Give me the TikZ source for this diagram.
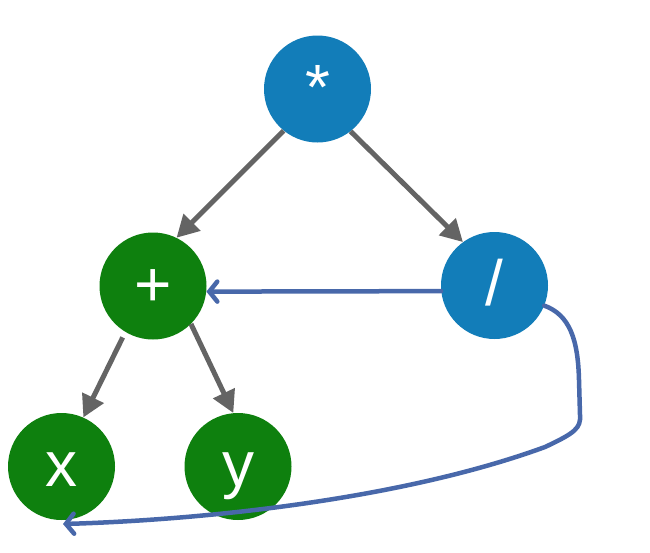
\documentclass[tikz,border=0pt]{standalone}
\usepackage{fontspec}
\setmainfont{Liberation Sans}
\usetikzlibrary{arrows.meta}
\definecolor{nodeblue}{RGB}{18,125,185}
\definecolor{nodegreen}{RGB}{14,128,14}
\definecolor{edgegray}{RGB}{100,100,100}
\definecolor{linkblue}{RGB}{72,104,170}
\tikzset{
  treenode/.style={circle, minimum size=107pt, inner sep=0pt, text=white,
    text height=40pt, text depth=0pt, font=\fontsize{64}{70}\selectfont},
  bluenode/.style={treenode, fill=nodeblue},
  greennode/.style={treenode, fill=nodegreen},
  treeedge/.style={draw=edgegray, line width=5pt,
    -{Triangle[length=22pt,width=23pt]}},
  linkedge/.style={draw=linkblue, line width=4.5pt, line cap=round,
    -{Straight Barb[length=8pt,width=20pt,line cap=round]}}
}
\begin{document}
\begin{tikzpicture}[x=1pt,y=-1pt]
\useasboundingbox[fill=white] (0,0) rectangle (650,552);
\node[bluenode] (star) at (317.5,89) {*};
\node[greennode] (plus) at (153,286) {+};
\node[bluenode] (div) at (494.5,285.5) {/};
\node[greennode] (xn) at (61.5,466.5) {x};
\node[greennode] (yn) at (238,466.5) {y};
\coordinate (xend) at (63,524);
% tree edges
\draw[treeedge] (star.231) -- (plus.64);
\draw[treeedge] (star.-52) -- (div.126);
\draw[treeedge, shorten <=6pt] (plus.239) -- (xn.66);
\draw[treeedge] (plus.-45) -- (yn.95);
% links
\draw[linkedge] (div.186) -- (plus.-6);
\draw[linkedge] (div.-22) .. controls (570,315) and (578,340) .. (579,380)
  -- (580,415) .. controls (581,428) and (575,433) .. (545,447)
  .. controls (400,500) and (200,520) .. (xend);
\end{tikzpicture}
\end{document}
